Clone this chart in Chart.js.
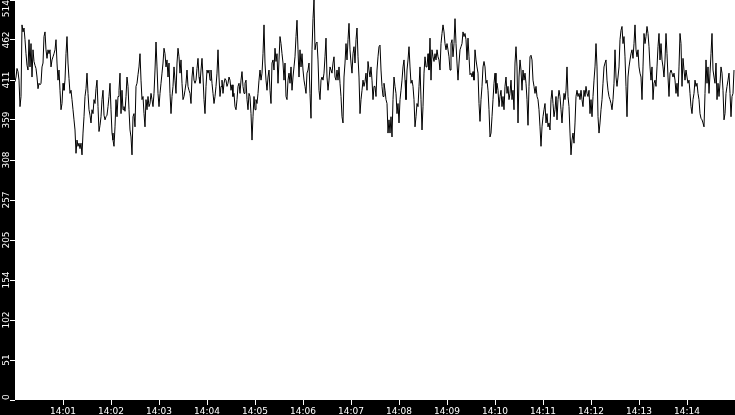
<!DOCTYPE html>
<html>
<head>
<meta charset="utf-8">
<script src="https://cdn.jsdelivr.net/npm/chart.js@4"></script>
<style>
  html, body { margin: 0; padding: 0; background: #000; }
  canvas { display: block; }
</style>
</head>
<body>
<canvas id="myChart" width="735" height="415"></canvas>
<script>
// one sample every 1.25 s from 14:00:00
const sampleStep = 1.25;

const values = [
  409, 415, 426, 422, 411, 377, 390, 482, 473, 478, 463, 445, 430, 424, 463, 428, 458, 415, 450, 435,
  430, 426, 415, 400, 407, 405, 407, 428, 433, 467, 473, 450, 439, 450, 445, 450, 428, 437, 441, 445,
  450, 463, 433, 411, 424, 398, 373, 381, 407, 398, 411, 445, 467, 433, 413, 394, 398, 386, 373, 360,
  347, 317, 334, 326, 330, 323, 330, 315, 343, 364, 390, 400, 420, 394, 373, 366, 356, 373, 368, 386,
  381, 400, 411, 377, 345, 353, 364, 386, 398, 366,
  360, 364, 366, 377, 390, 407, 373, 343, 334, 326, 351, 386, 364, 390, 398, 420, 368, 398, 373, 377,
  371, 390, 415, 403, 373, 347, 338, 315, 364, 368, 351, 403, 407, 418, 428, 445, 411, 386, 390, 368,
  351, 386, 373, 390, 377, 381, 394, 386, 377, 394, 424, 460, 428, 394, 377, 394, 407, 420, 433, 452,
  445, 428, 437, 415, 433, 394, 368, 390, 403, 428, 411, 394, 433, 452, 441, 420, 437, 407, 386, 390,
  398, 407, 424, 403, 398, 394, 381, 415, 428, 411,
  407, 411, 426, 439, 415, 407, 424, 439, 415, 386, 368, 403, 424, 420, 424, 411, 424, 407, 394, 381,
  390, 403, 420, 450, 415, 390, 403, 411, 394, 407, 413, 411, 403, 407, 415, 411, 398, 405, 390, 394,
  377, 373, 386, 403, 407, 394, 411, 422, 403, 394, 407, 411, 386, 373, 394, 390, 368, 334, 364, 390,
  373, 386, 381, 394, 411, 424, 411, 420, 445, 482, 433, 411, 398, 415, 424, 398, 381, 433, 437, 424,
  452, 435, 445, 407, 437, 467, 458, 445, 433, 411,
  433, 390, 386, 411, 420, 407, 428, 398, 415, 428, 441, 467, 488, 450, 415, 450, 428, 445, 424, 411,
  403, 394, 420, 424, 433, 394, 362, 450, 490, 514, 450, 458, 460, 437, 398, 386, 411, 415, 411, 420,
  441, 465, 415, 398, 411, 428, 424, 420, 433, 441, 415, 411, 424, 411, 428, 407, 390, 364, 356, 415,
  433, 458, 437, 463, 484, 450, 433, 420, 445, 454, 433, 463, 478, 441, 415, 368, 386, 398, 411, 403,
  409, 420, 398, 435, 424, 415, 428, 411, 386, 403,
  403, 390, 424, 441, 454, 456, 424, 403, 390, 407, 398, 386, 381, 343, 360, 343, 364, 338, 386, 415,
  403, 394, 368, 381, 356, 386, 398, 411, 428, 437, 411, 386, 424, 437, 454, 428, 407, 411, 403, 386,
  351, 364, 381, 377, 403, 428, 386, 347, 377, 420, 441, 428, 428, 445, 424, 465, 411, 450, 441, 435,
  445, 437, 450, 441, 437, 424, 458, 471, 482, 473, 458, 450, 458, 450, 441, 424, 458, 463, 441, 458,
  490, 458, 433, 411, 433, 450, 454, 458, 473, 467,
  471, 463, 437, 465, 441, 418, 420, 415, 422, 411, 450, 437, 428, 420, 381, 358, 386, 403, 428, 435,
  428, 407, 411, 398, 373, 338, 343, 364, 386, 407, 420, 394, 407, 398, 377, 390, 398, 377, 390, 373,
  403, 415, 394, 403, 386, 394, 411, 386, 398, 373, 433, 454, 428, 356, 415, 437, 424, 398, 424, 411,
  420, 407, 386, 353, 403, 441, 443, 437, 411, 403, 394, 403, 390, 386, 373, 351, 326, 351, 364, 373,
  381, 356, 368, 351, 356, 347, 386, 398, 381, 364,
  373, 390, 360, 386, 398, 390, 373, 356, 377, 394, 386, 398, 428, 390, 377, 343, 315, 334, 343, 330,
  356, 390, 398, 390, 394, 386, 398, 386, 377, 398, 390, 403, 394, 390, 398, 368, 386, 364, 390, 411,
  428, 458, 428, 364, 343, 356, 373, 386, 407, 428, 433, 437, 411, 398, 390, 386, 381, 373, 386, 407,
  450, 415, 403, 415, 428, 463, 475, 480, 458, 467, 441, 403, 364, 415, 428, 437, 445, 450, 439, 458,
  482, 450, 441, 450, 428, 420, 415, 386, 428, 471,
  458, 467, 480, 471, 454, 428, 411, 428, 386, 407, 411, 403, 428, 454, 471, 437, 458, 437, 428, 415,
  437, 471, 445, 415, 390, 420, 424, 420, 415, 420, 411, 394, 407, 390, 428, 471, 458, 403, 439, 424,
  411, 424, 415, 407, 411, 394, 377, 368, 386, 394, 411, 403, 407, 394, 386, 368, 362, 360, 356, 351,
  394, 437, 407, 428, 394, 420, 445, 471, 424, 415, 407, 433, 386, 407, 390, 407, 428, 420, 398, 360,
  368, 394, 403, 411, 420, 394, 364, 390, 394, 424
];

const yTicks = [0, 51.4, 102.8, 154.2, 205.6, 257, 308.4, 359.8, 411.2, 462.6, 514];
const yTickLabels = ["0", "51", "102", "154", "205", "257", "308", "359", "411", "462", "514"];
const xTicks = [60, 120, 180, 240, 300, 360, 420, 480, 540, 600, 660, 720, 780, 840];
const xTickLabels = ["14:01", "14:02", "14:03", "14:04", "14:05", "14:06", "14:07",
  "14:08", "14:09", "14:10", "14:11", "14:12", "14:13", "14:14"];

const points = values.map((v, i) => ({ x: i * sampleStep, y: v }));

// black frame, white plot area, rotated y labels
const frame = {
  id: "frame",
  beforeDraw(chart) {
    const c = chart.ctx;
    const a = chart.chartArea;
    c.save();
    c.fillStyle = "#000";
    c.fillRect(0, 0, chart.width, chart.height);
    c.fillStyle = "#fff";
    c.fillRect(a.left, a.top, a.right - a.left, a.bottom - a.top);
    c.restore();
  },
  afterDraw(chart) {
    const c = chart.ctx;
    const y = chart.scales.y;
    const a = chart.chartArea;
    c.save();
    c.fillStyle = "#fff";
    c.font = "9px 'DejaVu Sans'";
    c.textAlign = "center";
    c.textBaseline = "alphabetic";
    yTicks.forEach((v, i) => {
      const label = yTickLabels[i];
      const w = c.measureText(label).width;
      let py = y.getPixelForValue(v);
      py = Math.max(a.top + w / 2, Math.min(a.bottom - w / 2, py));
      c.save();
      c.translate(9, py);
      c.rotate(-Math.PI / 2);
      c.fillText(label, 0, 0);
      c.restore();
    });
    c.restore();
  },
};

const ctx = document.getElementById("myChart").getContext("2d");
const myChart = new Chart(ctx, {
  type: "line",
  data: {
    datasets: [
      {
        label: "value",
        data: points,
        borderColor: "#000",
        borderWidth: 1,
        pointRadius: 0,
        tension: 0,
        fill: false,
      },
    ],
  },
  options: {
    responsive: false,
    animation: false,
    devicePixelRatio: 1,
    layout: { padding: 0 },
    plugins: { legend: { display: false }, tooltip: { enabled: false } },
    scales: {
      x: {
        type: "linear",
        min: 0,
        max: 900,
        afterBuildTicks: (scale) => {
          scale.ticks = xTicks.map((v) => ({ value: v }));
        },
        afterFit: (scale) => {
          scale.height = 15;
        },
        border: { display: false },
        grid: { drawOnChartArea: false, color: "#fff", tickLength: 5, tickWidth: 1 },
        ticks: {
          color: "#fff",
          font: { family: "DejaVu Sans", size: 9 },
          padding: 1,
          maxRotation: 0,
          minRotation: 0,
          autoSkip: false,
          callback: (value) => xTickLabels[xTicks.indexOf(value)],
        },
      },
      y: {
        type: "linear",
        min: 0,
        max: 514,
        afterBuildTicks: (scale) => {
          scale.ticks = yTicks.map((v) => ({ value: v }));
        },
        afterFit: (scale) => {
          scale.width = 15;
        },
        border: { display: false },
        grid: { drawOnChartArea: false, color: "#fff", tickLength: 5, tickWidth: 1 },
        ticks: { display: false },
      },
    },
  },
  plugins: [frame],
});
</script>
</body>
</html>
